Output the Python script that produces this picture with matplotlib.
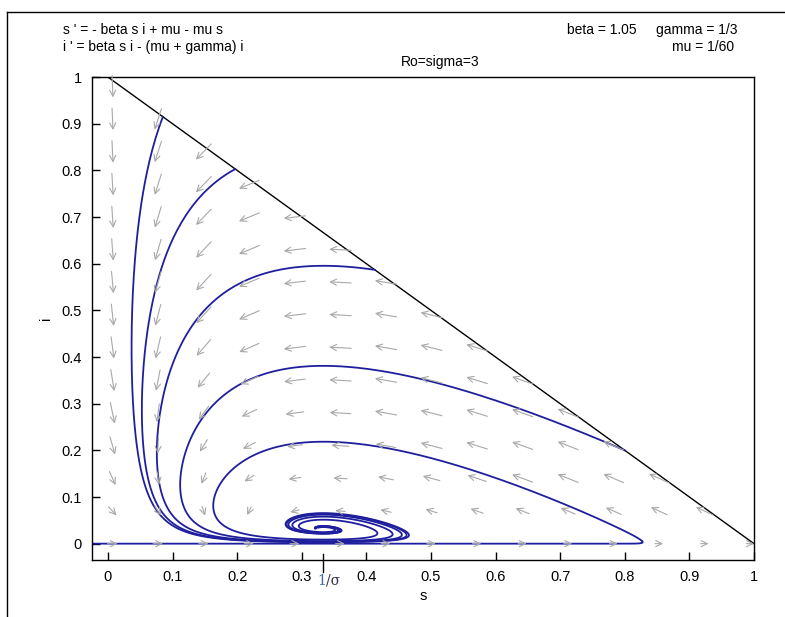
import numpy as np
import matplotlib
matplotlib.use("Agg")
import matplotlib.pyplot as plt
from matplotlib.lines import Line2D

# modelo SIR com nascimentos/mortes
beta = 1.05
gamma = 1 / 3
mu = 1 / 60

# pontos iniciais das trajetorias (s0, i0)
s0 = [0.085, 0.197, 0.413, 0.800, 0.827]
i0 = [0.915, 0.803, 0.587, 0.200, 0.005]
t_fim = [140, 140, 140, 140, 140]
# so a ultima trajetoria tambem e calculada para tras no tempo
t_volta = [0, 0, 0, 0, 110]

# grade do campo de direcoes
s_grade = [0.007 + 0.0705 * k for k in range(15)]
i_grade = [0.07 * j for j in range(15)]

x_ticks = [0, 0.1, 0.2, 0.3, 0.4, 0.5, 0.6, 0.7, 0.8, 0.9, 1]
x_tick_labels = ['0', '0.1', '0.2', '0.3', '0.4', '0.5', '0.6', '0.7', '0.8', '0.9', '1']
y_ticks = [0, 0.1, 0.2, 0.3, 0.4, 0.5, 0.6, 0.7, 0.8, 0.9, 1]
y_tick_labels = ['0', '0.1', '0.2', '0.3', '0.4', '0.5', '0.6', '0.7', '0.8', '0.9', '1']


def campo(s, i):
    ds = -beta * s * i + mu - mu * s
    di = beta * s * i - (mu + gamma) * i
    return ds, di


def integra(s, i, T, dt):
    # RK4 simples
    n = int(abs(T) / dt)
    h = dt if T > 0 else -dt
    S = [s]
    I = [i]
    for _ in range(n):
        k1 = campo(s, i)
        k2 = campo(s + h / 2 * k1[0], i + h / 2 * k1[1])
        k3 = campo(s + h / 2 * k2[0], i + h / 2 * k2[1])
        k4 = campo(s + h * k3[0], i + h * k3[1])
        s = s + h / 6 * (k1[0] + 2 * k2[0] + 2 * k3[0] + k4[0])
        i = i + h / 6 * (k1[1] + 2 * k2[1] + 2 * k3[1] + k4[1])
        if s < -0.025:
            break
        S.append(s)
        I.append(i)
    return np.array(S), np.array(I)


plt.rcParams['font.family'] = ['Liberation Sans', 'DejaVu Sans']
fig = plt.figure(figsize=(7.85, 6.17), dpi=100)
ax = fig.add_axes([0.117, 0.0924, 0.8435, 0.7826])
ax.set_xlim(-0.025, 1)
ax.set_ylim(-0.035, 1)

# moldura da janela
fig.add_artist(Line2D([7 / 785, 1], [1 - 12 / 617, 1 - 12 / 617], color='black', lw=1))
fig.add_artist(Line2D([7 / 785, 7 / 785], [0, 1 - 12 / 617], color='black', lw=1))

# campo de direcoes (so dentro do triangulo s + i <= 1)
px = ax.transData.transform([[0, 0], [1, 1]])
esc_x = px[1, 0] - px[0, 0]
esc_y = px[1, 1] - px[0, 1]
L = 22
for s in s_grade:
    for i in i_grade:
        if s + i > 1.0:
            continue
        ds, di = campo(s, i)
        vx, vy = ds * esc_x, di * esc_y
        norma = np.hypot(vx, vy)
        mag = np.hypot(ds, di)
        f = 0.35 + 0.65 * min(1, mag / 0.1)
        dx = vx / norma * L * f / 2 / esc_x
        dy = vy / norma * L * f / 2 / esc_y
        ax.annotate('', xy=(s + dx, i + dy), xytext=(s - dx, i - dy),
                    arrowprops=dict(arrowstyle='->', color='#a8a8a8', lw=0.8,
                                    mutation_scale=11, shrinkA=0, shrinkB=0))

# reta s + i = 1
ax.plot([0, 1], [1, 0], color='black', lw=1)

# trajetorias
for k in range(len(s0)):
    S, I = integra(s0[k], i0[k], t_fim[k], 0.05)
    ax.plot(S, I, color='#1f1f9e', lw=1.3)
    if t_volta[k] > 0:
        S, I = integra(s0[k], i0[k], -t_volta[k], 0.05)
        ax.plot(S, I, color='#1f1f9e', lw=1.3)

# eixos
ax.set_xticks(x_ticks)
ax.set_xticklabels(x_tick_labels)
ax.set_yticks(y_ticks)
ax.set_yticklabels(y_tick_labels)
ax.tick_params(direction='in', length=6, width=1, labelsize=10.5, pad=7)
ax.set_xlabel('s', fontsize=10.5, labelpad=4)
ax.set_ylabel('i', fontsize=10.5, labelpad=6)
for sp in ax.spines.values():
    sp.set_linewidth(1)

# marca em 1/sigma
sig = beta / (mu + gamma)
ax.plot([1 / sig, 1 / sig], [-0.025, 0.0124], color='black', lw=1, clip_on=False,
        transform=ax.get_xaxis_transform())
ax.text(1 / sig + 0.004, -0.028, '1', transform=ax.get_xaxis_transform(), family='DejaVu Serif',
        fontsize=10, color='#3a6ea8', ha='right', va='top')
ax.text(1 / sig + 0.004, -0.028, '/σ', transform=ax.get_xaxis_transform(), family='DejaVu Serif',
        fontsize=10, color='#333344', ha='left', va='top')

# textos
fig.text(63 / 785, 1 - 30 / 617, "s ' = - beta s i + mu - mu s", fontsize=10, va='center')
fig.text(63 / 785, 1 - 47 / 617, "i ' = beta s i - (mu + gamma) i", fontsize=10, va='center')
fig.text(440 / 785, 1 - 62 / 617, "Ro=sigma=3", fontsize=10, va='center', ha='center')
fig.text(567 / 785, 1 - 30 / 617, "beta = 1.05", fontsize=10, va='center')
fig.text(656 / 785, 1 - 30 / 617, "gamma = 1/3", fontsize=10, va='center')
fig.text(672 / 785, 1 - 47 / 617, "mu = 1/60", fontsize=10, va='center')

plt.savefig('out.png', dpi=100)
